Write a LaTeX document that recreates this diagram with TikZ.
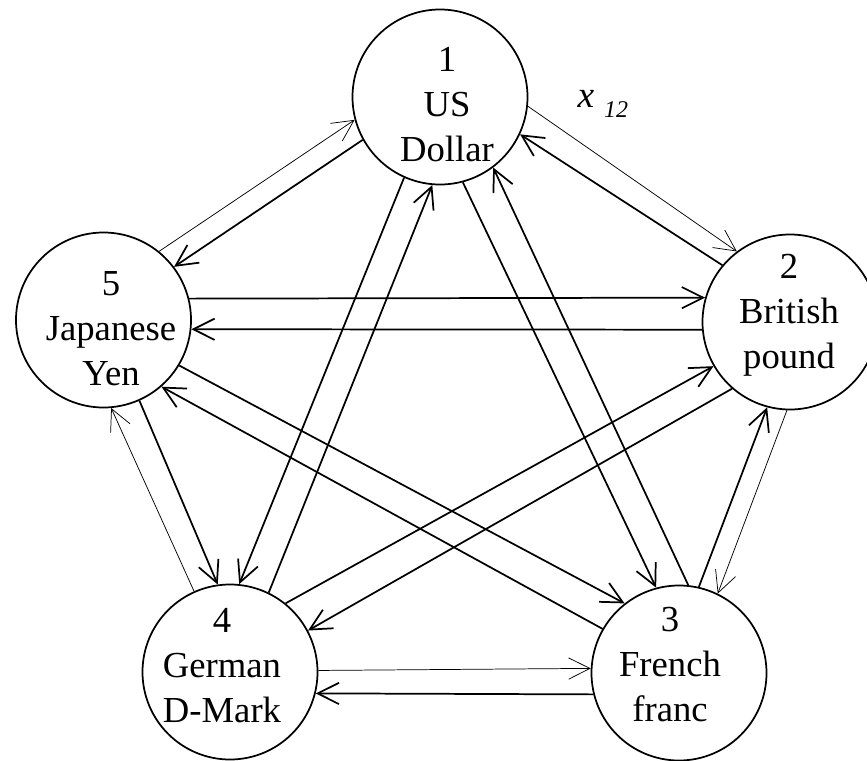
\documentclass[tikz,border=0pt]{standalone}
\usepackage{fontspec}
\setmainfont{Liberation Serif}
\usetikzlibrary{arrows.meta}
\begin{document}
\begin{tikzpicture}[x=0.75pt,y=-0.75pt,
  currency/.style={circle,draw,line width=1.3pt,minimum size=131.25pt,inner sep=0pt},
  caption/.style={align=center,font=\fontsize{27.5}{33.75}\selectfont,inner sep=0pt},
  thinflow/.style={line width=0.55pt,-{Straight Barb[length=16pt,width=16pt]}},
  thickflow/.style={line width=1.3pt,-{Straight Barb[length=16pt,width=16pt]}},
]
\useasboundingbox (0,0) rectangle (867,760);

% currencies
\node[currency] (n1) at (440,97) {};
\node[currency] (n2) at (790,322) {};
\node[currency] (n3) at (679,673) {};
\node[currency] (n4) at (230,672) {};
\node[currency] (n5) at (103.5,320) {};

\node[caption] (t1) at (447,105) {1\\US\\Dollar};
\node[caption] (t2) at (789,315.5) {2\\British\\pound};
\node[caption] (t3) at (670,664.7) {3\\French\\franc};
\node[caption] (t4) at (222,665.2) {4\\German\\D-Mark};
\node[caption] (t5) at (111,328.7) {5\\Japanese\\Yen};

% flow label
\node[inner sep=0pt,font=\fontsize{28}{30}\selectfont\itshape] (xlab) at (586,99) {x};
\node[inner sep=0pt,font=\fontsize{18}{20}\selectfont\itshape] (xsub) at (616,110) {12};

% thin flows
\draw[thinflow] (n1.-6.6) -- (n2.127.4);
\draw[thinflow] (n5.51.6) -- (n1.195.9);
\draw[thinflow] (n4.114.8) -- (n5.-85.7);
\draw[thinflow] (n4.1.3) -- (n3.177.4);
\draw[thinflow] (n2.-92) -- (n3.64.9);

% thick flows
\draw[thickflow] (n2.140.8) -- (n1.-25.5);
\draw[thickflow] (n1.209.5) -- (n5.37.7);
\draw[thickflow] (n5.14.1) -- (n2.164.6);
\draw[thickflow] (n2.185.3) -- (n5.-6.4);
\draw[thickflow] (n5.-66.3) -- (n4.98.5);
\draw[thickflow] (n3.194.2) -- (n4.-14.5);
\draw[thickflow] (n3.77.5) -- (n2.-105.4);
\draw[thickflow] (n1.-114.5) -- (n4.84.6);
\draw[thickflow] (n4.64.2) -- (n1.-95.1);
\draw[thickflow] (n1.-75.5) -- (n3.105);
\draw[thickflow] (n3.84.7) -- (n1.-53);
\draw[thickflow] (n5.-31) -- (n3.128.7);
\draw[thickflow] (n3.150.9) -- (n5.-49);
\draw[thickflow] (n2.-131.5) -- (n4.28.2);
\draw[thickflow] (n4.51.5) -- (n2.-150);
\end{tikzpicture}
\end{document}
